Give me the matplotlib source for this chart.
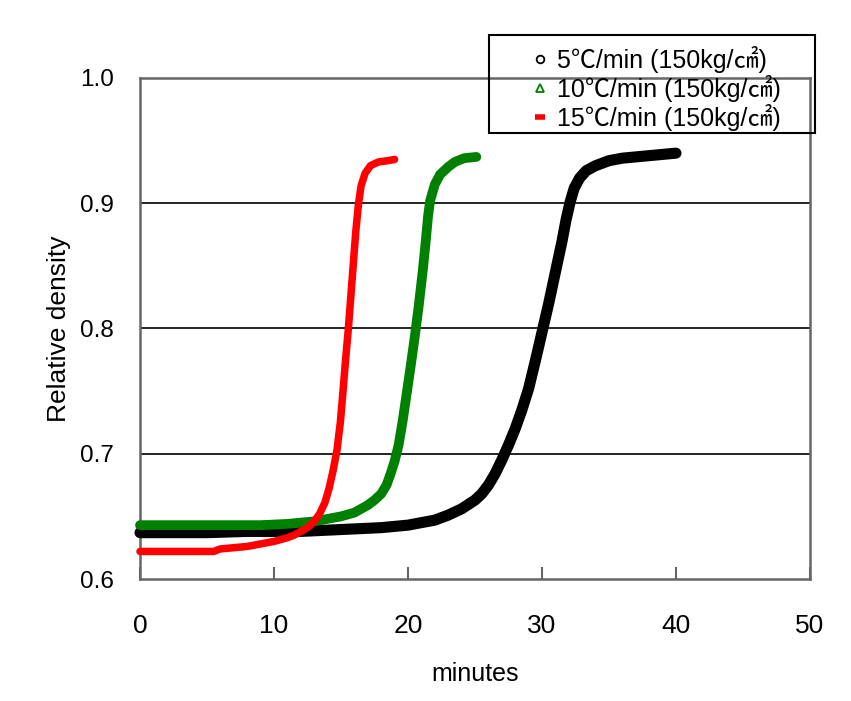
import matplotlib
matplotlib.use("Agg")
import matplotlib.pyplot as plt
from matplotlib.lines import Line2D
from matplotlib.patches import Rectangle

# ---------------- data ----------------
x_5 = [0, 2, 5, 8, 10, 12, 14, 16, 18, 20, 21, 22, 23, 24, 25, 25.5, 26, 26.5,
       27, 27.5, 28, 28.5, 29, 29.5, 30, 30.5, 31, 31.5, 31.8, 32.1, 32.4,
       32.8, 33.3, 34, 35, 36, 37, 38, 39, 40]
y_5 = [0.637, 0.637, 0.637, 0.638, 0.638, 0.638, 0.639, 0.640, 0.641, 0.643,
       0.645, 0.647, 0.651, 0.656, 0.663, 0.668, 0.675, 0.684, 0.695, 0.707,
       0.720, 0.735, 0.752, 0.774, 0.797, 0.820, 0.845, 0.870, 0.887, 0.901,
       0.912, 0.920, 0.926, 0.930, 0.934, 0.936, 0.937, 0.938, 0.939, 0.940]

x_10 = [0, 3, 6, 9, 11, 12, 13, 14, 15, 16, 16.5, 17, 17.5, 18, 18.4, 18.7,
        19.0, 19.3, 19.6, 19.9, 20.2, 20.5, 20.8, 21.1, 21.3, 21.5, 21.65,
        22.0, 22.4, 23.0, 23.5, 24.2, 25.1]
y_10 = [0.643, 0.643, 0.643, 0.643, 0.644, 0.645, 0.646, 0.648, 0.650, 0.653,
        0.656, 0.659, 0.663, 0.668, 0.675, 0.684, 0.694, 0.707, 0.726, 0.748,
        0.770, 0.793, 0.818, 0.846, 0.867, 0.890, 0.902, 0.915, 0.923, 0.929,
        0.933, 0.936, 0.937]

x_15 = [0, 2, 4, 5.5, 6, 7, 8, 9, 10, 11, 11.5, 12, 12.5, 13, 13.4, 13.8,
        14.1, 14.4, 14.7, 14.95, 15.15, 15.35, 15.55, 15.75, 15.95, 16.1,
        16.3, 16.5, 16.8, 17.2, 17.8, 18.5, 19.0]
y_15 = [0.622, 0.622, 0.622, 0.622, 0.624, 0.625, 0.626, 0.628, 0.630, 0.633,
        0.635, 0.638, 0.641, 0.646, 0.652, 0.661, 0.672, 0.686, 0.703, 0.725,
        0.750, 0.776, 0.800, 0.828, 0.856, 0.877, 0.899, 0.914, 0.924, 0.930,
        0.933, 0.934, 0.935]

labels = ["5℃/min (150kg/㎠)", "10℃/min (150kg/㎠)", "15℃/min (150kg/㎠)"]
x_ticks = [0, 10, 20, 30, 40, 50]
y_ticks = [0.6, 0.7, 0.8, 0.9, 1.0]

# ---------------- styling ----------------
sans = ['Liberation Sans', 'DejaVu Sans']
legfont = ['Liberation Sans', 'Noto Sans CJK KR', 'DejaVu Sans']

W, H = 851, 701
fig = plt.figure(figsize=(W / 100, H / 100), dpi=100)
ax = fig.add_axes([140 / W, 1 - 579 / H, 670 / W, 501 / H])

common = dict(solid_capstyle='round', solid_joinstyle='round', clip_on=False)
ax.plot(x_5, y_5, color='black', lw=8, zorder=3, **common)
ax.plot(x_10, y_10, color='#008000', lw=7, zorder=4, **common)
ax.plot(x_15, y_15, color='#ff0000', lw=5.4, zorder=5, **common)

ax.set_xlim(0, 50)
ax.set_ylim(0.6, 1.0)
ax.set_xticks(x_ticks)
ax.set_yticks(y_ticks)
ax.set_xticklabels([str(v) for v in x_ticks], family=sans, fontsize=19)
ax.set_yticklabels([f"{v:.1f}" for v in y_ticks], family=sans, fontsize=17.5)
ax.tick_params(axis='x', direction='in', length=9, width=1.5, color='#666666', pad=25)
ax.tick_params(axis='y', length=0, pad=19)

for yv in [0.7, 0.8, 0.9]:
    ax.axhline(yv, color='black', lw=1.2, zorder=1)
for s in ax.spines.values():
    s.set_color('#666666')
    s.set_linewidth(1.8)

ax.set_xlabel("minutes", family=sans, fontsize=18)
ax.xaxis.set_label_coords(0.5, -0.165)
ax.set_ylabel("Relative density", family=sans, fontsize=19)
ax.yaxis.set_label_coords(-0.103, 0.5)

# legend box
fig.patches.append(Rectangle((489 / W, 1 - 133 / H), 326 / W, 98 / H,
                             transform=fig.transFigure, fill=False,
                             edgecolor='black', lw=1.5, zorder=10))
handles = [
    Line2D([], [], ls='none', marker='o', ms=5.5, mfc='none', mec='black', mew=1.3),
    Line2D([], [], ls='none', marker='^', ms=6, mfc='none', mec='#008000', mew=1.3),
    Line2D([], [], ls='none', marker='_', ms=7, mec='#ff0000', mew=4),
]
leg = fig.legend(handles, labels, loc='upper left',
                 bbox_to_anchor=(526 / W, 1 - 46 / H), frameon=False,
                 borderpad=0, borderaxespad=0, handlelength=1.1,
                 handletextpad=0.15, labelspacing=0.08,
                 prop={'family': legfont, 'size': 18})

fig.savefig("out.png", dpi=100)
